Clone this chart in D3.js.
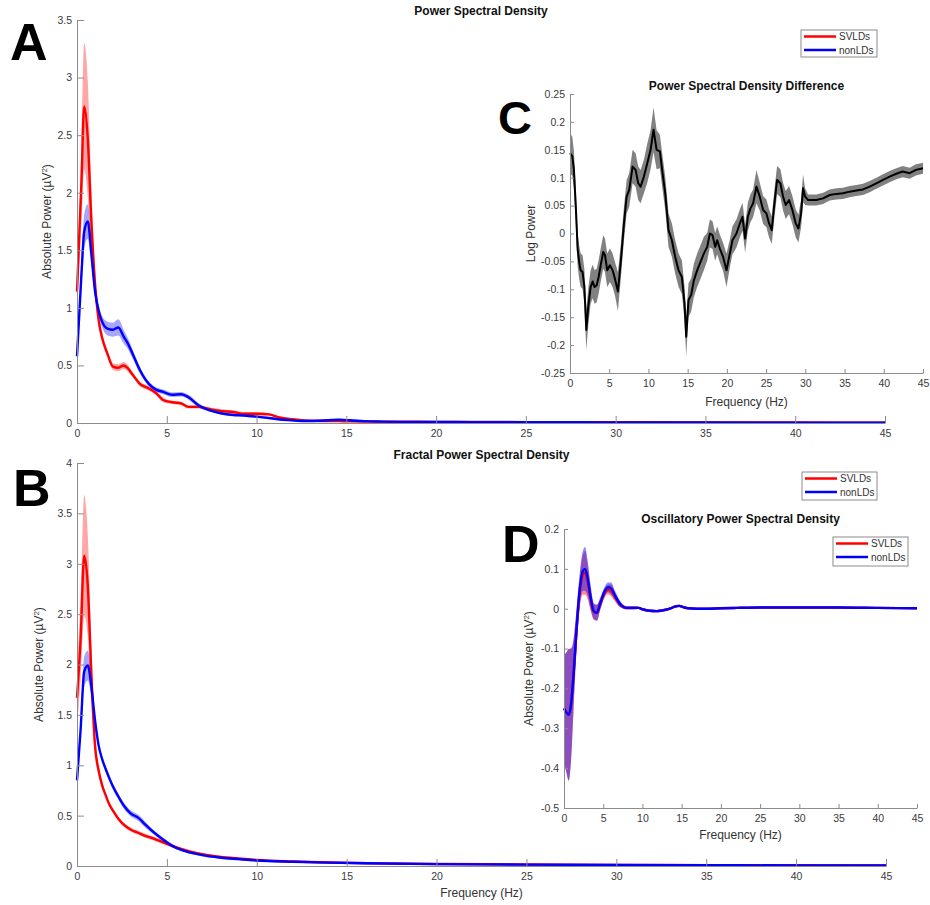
<!DOCTYPE html>
<html>
<head>
<meta charset="utf-8">
<script src="https://cdn.jsdelivr.net/npm/d3@7"></script>
<style>
  body { margin: 0; background: #fff; }
  svg { display: block; font-family: "Liberation Sans", Arial, sans-serif; }
</style>
</head>
<body>
<svg id="fig" width="930" height="905"></svg>
<script>
// ---- data ----
const groups = ["SVLDs", "nonLDs"];
const freqTicks = [0, 5, 10, 15, 20, 25, 30, 35, 40, 45];

// A: power spectral density
const aFreq = [0, 0.25, 0.4, 0.6, 0.8, 1.0, 1.2, 1.4, 1.7, 2.0, 2.3, 2.6, 2.8, 3.1, 3.5, 4.0, 4.4, 4.8, 5.3, 5.8, 6.2, 6.8, 7.4, 8.0, 8.7, 9.3, 10.0, 10.7, 11.2, 11.8, 12.5, 13.2, 14.0, 14.6, 15.2, 16, 17, 18, 20, 22, 25, 28, 31, 35, 40, 45];
const aRed = [1.14, 2.1, 2.75, 2.47, 1.75, 1.22, 0.9, 0.74, 0.6, 0.49, 0.48, 0.5, 0.48, 0.42, 0.34, 0.3, 0.26, 0.2, 0.18, 0.17, 0.14, 0.14, 0.12, 0.105, 0.095, 0.08, 0.08, 0.075, 0.05, 0.035, 0.025, 0.02, 0.017, 0.016, 0.015, 0.013, 0.012, 0.011, 0.01, 0.009, 0.008, 0.007, 0.006, 0.005, 0.004, 0.003];
const aRedSem = [0.15, 0.35, 0.55, 0.5, 0.3, 0.12, 0.06, 0.04, 0.03, 0.03, 0.03, 0.03, 0.03, 0.02, 0.02, 0.02, 0.02, 0.02, 0.015, 0.015, 0.015, 0.015, 0.015, 0.015, 0.015, 0.015, 0.015, 0.01, 0.01, 0.01, 0.01, 0.005, 0.005, 0.005, 0.005, 0.005, 0.005, 0.005, 0.005, 0.005, 0.005, 0.005, 0.005, 0.005, 0.005, 0.005];
const aBlue = [0.58, 1.3, 1.66, 1.75, 1.47, 1.15, 0.98, 0.88, 0.82, 0.81, 0.83, 0.75, 0.7, 0.6, 0.46, 0.34, 0.29, 0.27, 0.245, 0.25, 0.225, 0.15, 0.11, 0.085, 0.07, 0.065, 0.055, 0.043, 0.033, 0.025, 0.018, 0.018, 0.024, 0.028, 0.024, 0.016, 0.012, 0.01, 0.009, 0.008, 0.007, 0.006, 0.005, 0.004, 0.003, 0.002];
const aBlueSem = [0.05, 0.12, 0.15, 0.15, 0.1, 0.06, 0.05, 0.05, 0.06, 0.06, 0.07, 0.06, 0.05, 0.04, 0.03, 0.02, 0.02, 0.02, 0.02, 0.02, 0.02, 0.02, 0.01, 0.01, 0.01, 0.01, 0.01, 0.01, 0.01, 0.01, 0.008, 0.008, 0.008, 0.008, 0.008, 0.006, 0.005, 0.005, 0.005, 0.005, 0.005, 0.005, 0.005, 0.005, 0.005, 0.005];

// B: fractal power spectral density
const bFreq = [0, 0.2, 0.4, 0.6, 0.8, 1.0, 1.2, 1.4, 1.6, 1.8, 2.0, 2.3, 2.6, 3.0, 3.4, 3.8, 4.3, 4.8, 5.3, 5.8, 6.5, 7.2, 8.0, 9.0, 10, 12, 14, 17, 20, 25, 30, 35, 40, 45];
const bRed = [1.67, 2.25, 3.08, 2.78, 1.9, 1.2, 0.95, 0.8, 0.7, 0.61, 0.55, 0.47, 0.41, 0.36, 0.33, 0.3, 0.27, 0.235, 0.2, 0.17, 0.135, 0.11, 0.09, 0.075, 0.06, 0.045, 0.035, 0.026, 0.02, 0.015, 0.011, 0.009, 0.007, 0.006];
const bRedSem = [0.3, 0.4, 0.6, 0.5, 0.3, 0.1, 0.05, 0.03, 0.02, 0.02, 0.02, 0.02, 0.02, 0.02, 0.02, 0.02, 0.02, 0.02, 0.01, 0.01, 0.01, 0.01, 0.01, 0.01, 0.005, 0.005, 0.005, 0.005, 0.005, 0.005, 0.005, 0.005, 0.005, 0.005];
const bBlue = [0.85, 1.35, 1.93, 1.99, 1.78, 1.45, 1.2, 1.06, 0.96, 0.87, 0.79, 0.69, 0.6, 0.52, 0.48, 0.41, 0.33, 0.26, 0.2, 0.16, 0.125, 0.1, 0.082, 0.068, 0.055, 0.042, 0.033, 0.025, 0.019, 0.014, 0.01, 0.008, 0.006, 0.005];
const bBlueSem = [0.05, 0.1, 0.15, 0.15, 0.1, 0.05, 0.03, 0.03, 0.03, 0.03, 0.03, 0.03, 0.03, 0.03, 0.03, 0.03, 0.02, 0.02, 0.02, 0.01, 0.01, 0.01, 0.01, 0.01, 0.01, 0.008, 0.008, 0.006, 0.005, 0.005, 0.005, 0.005, 0.005, 0.005];

// C: power spectral density difference (log power)
const cFreq = [0, 0.3, 0.5, 0.76, 0.98, 1.19, 1.36, 1.6, 1.83, 2.08, 2.33, 2.63, 2.89, 3.14, 3.4, 3.65, 3.95, 4.24, 4.46, 4.75, 5.09, 5.43, 5.73, 6.11, 6.49, 6.88, 7.22, 7.55, 7.98, 8.36, 8.7, 9.0, 9.42, 9.85, 10.27, 10.65, 11.04, 11.46, 11.8, 12.14, 12.56, 12.99, 13.41, 13.84, 14.26, 14.6, 14.81, 15.11, 15.45, 15.79, 16.21, 16.64, 17.06, 17.49, 17.83, 18.17, 18.51, 18.76, 19.1, 19.52, 19.95, 20.37, 20.71, 21.22, 21.65, 21.99, 22.33, 22.67, 23.0, 23.34, 23.77, 24.19, 24.62, 25.04, 25.38, 25.72, 26.06, 26.4, 26.82, 27.16, 27.5, 27.93, 28.35, 28.78, 29.12, 29.46, 29.71, 29.97, 30.35, 31.4, 32.26, 33.1, 33.96, 34.8, 35.65, 36.5, 37.35, 38.2, 39.05, 39.9, 40.75, 41.6, 42.4, 43.3, 44.1, 45];
const cDiff = [0.144, 0.138, 0.114, 0.042, -0.03, -0.053, -0.066, -0.069, -0.095, -0.173, -0.131, -0.096, -0.086, -0.096, -0.093, -0.078, -0.054, -0.033, -0.039, -0.066, -0.057, -0.066, -0.081, -0.104, -0.048, 0.018, 0.066, 0.078, 0.12, 0.114, 0.09, 0.084, 0.102, 0.126, 0.15, 0.186, 0.15, 0.147, 0.108, 0.072, 0.006, -0.012, -0.042, -0.066, -0.078, -0.125, -0.185, -0.119, -0.11, -0.084, -0.066, -0.051, -0.036, -0.024, 0.0, -0.003, -0.024, -0.012, -0.027, -0.042, -0.066, -0.036, -0.012, 0.0, 0.018, 0.03, -0.009, 0.03, 0.045, 0.054, 0.084, 0.066, 0.042, 0.036, 0.018, 0.006, 0.054, 0.096, 0.09, 0.066, 0.051, 0.06, 0.042, 0.018, 0.009, 0.036, 0.081, 0.066, 0.06, 0.06, 0.063, 0.069, 0.071, 0.072, 0.075, 0.077, 0.079, 0.084, 0.09, 0.096, 0.102, 0.107, 0.111, 0.108, 0.114, 0.117];
const cSem = [0.036, 0.035, 0.033, 0.03, 0.03, 0.03, 0.03, 0.03, 0.032, 0.036, 0.033, 0.03, 0.03, 0.03, 0.03, 0.03, 0.03, 0.03, 0.03, 0.03, 0.03, 0.03, 0.03, 0.035, 0.03, 0.03, 0.03, 0.03, 0.03, 0.03, 0.03, 0.03, 0.03, 0.035, 0.035, 0.04, 0.035, 0.03, 0.03, 0.03, 0.03, 0.03, 0.03, 0.03, 0.03, 0.03, 0.035, 0.03, 0.03, 0.03, 0.03, 0.03, 0.03, 0.025, 0.025, 0.025, 0.025, 0.025, 0.025, 0.025, 0.03, 0.025, 0.025, 0.025, 0.025, 0.025, 0.025, 0.025, 0.025, 0.025, 0.03, 0.025, 0.025, 0.025, 0.025, 0.025, 0.025, 0.025, 0.025, 0.025, 0.025, 0.025, 0.025, 0.025, 0.025, 0.025, 0.025, 0.015, 0.01, 0.01, 0.01, 0.01, 0.01, 0.01, 0.01, 0.01, 0.01, 0.01, 0.01, 0.01, 0.01, 0.01, 0.01, 0.01, 0.01, 0.01];

// D: oscillatory power spectral density
const dFreq = [0, 0.3, 0.6, 0.9, 1.2, 1.6, 2.0, 2.4, 2.7, 3.0, 3.4, 3.8, 4.2, 4.6, 5.1, 5.6, 6.0, 6.5, 7.1, 8.0, 8.8, 9.5, 10.1, 10.9, 11.8, 12.6, 13.5, 14.1, 14.7, 15.2, 15.8, 16.9, 18, 20, 22, 25, 28, 31, 35, 40, 45];
const dRed = [-0.25, -0.26, -0.266, -0.24, -0.17, -0.055, 0.04, 0.085, 0.09, 0.07, 0.024, -0.008, -0.01, 0.01, 0.036, 0.048, 0.046, 0.03, 0.012, 0.002, 0.002, 0.002, -0.002, -0.005, -0.006, -0.004, 0.0, 0.005, 0.007, 0.004, 0.001, 0.0, 0.0, 0.001, 0.002, 0.003, 0.003, 0.003, 0.003, 0.002, 0.001];
const dBlue = [-0.25, -0.26, -0.266, -0.24, -0.17, -0.05, 0.047, 0.095, 0.1, 0.078, 0.028, -0.006, -0.01, 0.012, 0.04, 0.054, 0.051, 0.033, 0.013, 0.002, 0.002, 0.002, -0.002, -0.005, -0.006, -0.004, 0.0, 0.005, 0.007, 0.004, 0.001, 0.0, 0.0, 0.001, 0.002, 0.003, 0.003, 0.003, 0.003, 0.002, 0.001];
const dSem = [0.135, 0.15, 0.165, 0.14, 0.09, 0.05, 0.04, 0.05, 0.055, 0.045, 0.03, 0.02, 0.02, 0.015, 0.012, 0.012, 0.015, 0.012, 0.008, 0.004, 0.004, 0.003, 0.003, 0.003, 0.003, 0.003, 0.003, 0.003, 0.003, 0.003, 0.002, 0.002, 0.002, 0.002, 0.002, 0.002, 0.002, 0.002, 0.002, 0.002, 0.002];

const colors = { SVLDs: "#ff0000", nonLDs: "#0000ff" };
const svg = d3.select("#fig");

function zip(freq, mean, sem) {
  return freq.map((f, i) => ({ f, m: mean[i], s: sem[i] }));
}

function fmt(d) { return String(+d.toFixed(2)); }

function panel({ x0, x1, y0, y1, yDomain, yTicks, tickLen, series, title, titleY,
                 ylabel, ylabelX, xlabel, xlabelY, letter, letterX, letterY, letterSize,
                 curve, lineWidth }) {
  const g = svg.append("g");

  const sx = d3.scaleLinear().domain([0, 45]).range([x0, x1]);
  const sy = d3.scaleLinear().domain(yDomain).range([y1, y0]);

  // shaded error bands, then mean lines
  const area = d3.area().curve(curve).x(d => sx(d.f)).y0(d => sy(d.m - d.s)).y1(d => sy(d.m + d.s));
  const line = d3.line().curve(curve).x(d => sx(d.f)).y(d => sy(d.m));
  series.forEach(s => {
    g.append("path").attr("d", area(s.data)).attr("fill", s.band).attr("fill-opacity", s.bandAlpha);
  });
  series.forEach(s => {
    g.append("path").attr("d", line(s.data)).attr("fill", "none")
      .attr("stroke", s.color).attr("stroke-width", lineWidth).attr("stroke-linejoin", "round");
  });

  // axes (box off, ticks inward)
  const ax = g.append("g").attr("transform", `translate(0,${y1})`)
    .call(d3.axisBottom(sx).tickValues(freqTicks).tickSize(-tickLen).tickPadding(7).tickSizeOuter(0).tickFormat(d3.format("d")));
  const ay = g.append("g").attr("transform", `translate(${x0},0)`)
    .call(d3.axisLeft(sy).tickValues(yTicks).tickSize(-tickLen).tickPadding(5).tickSizeOuter(0).tickFormat(fmt));
  [ax, ay].forEach(a => {
    a.select(".domain").attr("stroke", "#8c8c8c");
    a.selectAll(".tick line").attr("stroke", "#8c8c8c");
    a.selectAll(".tick text").attr("fill", "#3a3a3a").style("font-size", "10.5px")
      .style("font-family", '"Liberation Sans", Arial, sans-serif');
  });

  g.append("text").attr("x", (x0 + x1) / 2).attr("y", titleY).attr("text-anchor", "middle")
    .style("font-size", "12px").style("font-weight", "bold").attr("fill", "#111").text(title);

  if (xlabel) {
    g.append("text").attr("x", (x0 + x1) / 2).attr("y", xlabelY).attr("text-anchor", "middle")
      .style("font-size", "12px").attr("fill", "#333").text(xlabel);
  }
  const yl = g.append("text").attr("transform", `translate(${ylabelX},${(y0 + y1) / 2}) rotate(-90)`)
    .attr("text-anchor", "middle").style("font-size", "12px").attr("fill", "#333");
  if (ylabel === "power") {
    yl.append("tspan").text("Absolute Power (µV");
    yl.append("tspan").attr("dy", -4.5).style("font-size", "8px").text("2");
    yl.append("tspan").attr("dy", 4.5).text(")");
  } else {
    yl.text(ylabel);
  }

  svg.append("text").attr("x", letterX).attr("y", letterY).style("font-size", letterSize + "px")
    .style("font-weight", "bold").attr("fill", "#000").text(letter);
}

function legend(x, y, w, h) {
  const g = svg.append("g").attr("transform", `translate(${x},${y})`);
  g.append("rect").attr("width", w).attr("height", h).attr("fill", "#fff").attr("stroke", "#8c8c8c");
  groups.forEach((k, i) => {
    const yy = 6.5 + i * 13.5;
    g.append("line").attr("x1", 3).attr("x2", 35).attr("y1", yy).attr("y2", yy)
      .attr("stroke", colors[k]).attr("stroke-width", 2.5);
    g.append("text").attr("x", 38).attr("y", yy + 3.5).style("font-size", "10px").attr("fill", "#333").text(k);
  });
}

const smooth = d3.curveMonotoneX;

// Panel A
panel({
  x0: 77, x1: 885, y0: 20, y1: 423, yDomain: [0, 3.5], yTicks: [0, 0.5, 1, 1.5, 2, 2.5, 3, 3.5], tickLen: 7,
  series: [
    { data: zip(aFreq, aRed, aRedSem), color: colors.SVLDs, band: "#ff0000", bandAlpha: 0.35 },
    { data: zip(aFreq, aBlue, aBlueSem), color: colors.nonLDs, band: "#0000ff", bandAlpha: 0.35 }
  ],
  title: "Power Spectral Density", titleY: 15, ylabel: "power", ylabelX: 51,
  xlabel: null, letter: "A", letterX: 10, letterY: 60, letterSize: 52, curve: smooth, lineWidth: 2.4
});
legend(801, 30, 76, 27);

// Panel B
panel({
  x0: 77, x1: 886, y0: 463, y1: 866, yDomain: [0, 4], yTicks: [0, 0.5, 1, 1.5, 2, 2.5, 3, 3.5, 4], tickLen: 7,
  series: [
    { data: zip(bFreq, bRed, bRedSem), color: colors.SVLDs, band: "#ff0000", bandAlpha: 0.35 },
    { data: zip(bFreq, bBlue, bBlueSem), color: colors.nonLDs, band: "#0000ff", bandAlpha: 0.35 }
  ],
  title: "Fractal Power Spectral Density", titleY: 459, ylabel: "power", ylabelX: 43,
  xlabel: "Frequency (Hz)", xlabelY: 897, letter: "B", letterX: 13, letterY: 506, letterSize: 52, curve: smooth, lineWidth: 2.4
});
legend(802, 472, 75, 28);

// Panel C
panel({
  x0: 570, x1: 923, y0: 94, y1: 373, yDomain: [-0.25, 0.25],
  yTicks: [-0.25, -0.2, -0.15, -0.1, -0.05, 0, 0.05, 0.1, 0.15, 0.2, 0.25], tickLen: 4,
  series: [{ data: zip(cFreq, cDiff, cSem), color: "#000", band: "#7a7a7a", bandAlpha: 0.95 }],
  title: "Power Spectral Density Difference", titleY: 90, ylabel: "Log Power", ylabelX: 535,
  xlabel: "Frequency (Hz)", xlabelY: 406, letter: "C", letterX: 498, letterY: 134, letterSize: 47, curve: d3.curveLinear, lineWidth: 2
});

// Panel D
panel({
  x0: 564, x1: 917, y0: 529, y1: 808, yDomain: [-0.5, 0.2],
  yTicks: [-0.5, -0.4, -0.3, -0.2, -0.1, 0, 0.1, 0.2], tickLen: 4,
  series: [
    { data: zip(dFreq, dRed, dSem), color: colors.SVLDs, band: "#ff0000", bandAlpha: 0.45 },
    { data: zip(dFreq, dBlue, dSem), color: colors.nonLDs, band: "#0000ff", bandAlpha: 0.45 }
  ],
  title: "Oscillatory Power Spectral Density", titleY: 523, ylabel: "power", ylabelX: 533,
  xlabel: "Frequency (Hz)", xlabelY: 839, letter: "D", letterX: 502, letterY: 562, letterSize: 52, curve: smooth, lineWidth: 2.4
});
legend(833, 537, 75, 29);
</script>
</body>
</html>
